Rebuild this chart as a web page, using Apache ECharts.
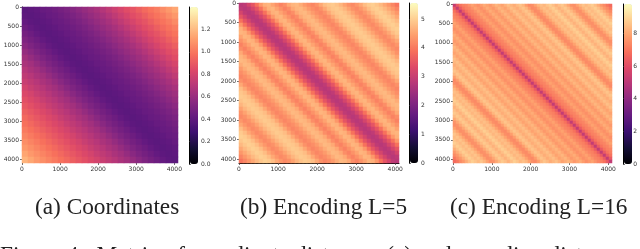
<!DOCTYPE html>
<html><head><meta charset="utf-8">
<style>html,body{margin:0;padding:0;background:#fff;overflow:hidden}#c{width:640px;height:249px}</style>
<script src="https://cdn.jsdelivr.net/npm/echarts@6/dist/echarts.min.js"></script></head>
<body><div id="c"></div>
<script>
const coordAboveDiagonal = [.39,.40,.41,.43,.44,.46,.48,.50,.53,.56,.59,.62,.65,.69,.73,.77,.81,.85,.88,.92,.96,.99,1.02,1.06,1.10,1.14];
const coordBelowDiagonal = [.39,.40,.42,.45,.48,.51,.55,.59,.63,.66,.70,.73,.76,.80,.83,.86,.89,.92,.95,.98,1.01,1.04,1.07,1.10,1.14,1.18];
const encodingL5 = [2.8,2.9,3.2,3.5,3.9,4.35,4.65,4.7,4.5,4.3,4.1,4.25,4.55,4.7,4.75,4.6,4.4,4.25,4.15,4.3,4.55,4.8,4.9,4.95,4.85,4.7,4.5,4.3,4.2,4.35,4.55,4.8,4.95,5.0,4.9,4.75,4.55,4.35,4.15,3.95];
const encodingL16 = [5.2,6.3,6.9,7.2,7.3,7.6,7.9,7.7,7.5,7.8,8.1,7.9,7.7,8.0,8.3,8.1,7.9,8.2,8.5,8.3,8.1,8.4,8.6,8.3,7.8,7.4,7.5,7.9,8.3,8.5,8.3,8.6,8.8,8.5,8.2,8.5,8.7,8.4,8.0,7.6,7.5,7.9,8.3,8.6,8.4,8.6,8.8,8.5,8.1,7.7,7.4,7.0,6.7];
const captions = ['(a) Coordinates','(b) Encoding L=5','(c) Encoding L=16'];
const figureCaption = 'Figure 4:  Matrix of coordinate distances (a) and encoding distances';
const xTicks = [0,1000,2000,3000,4000];
const yTicks = [0,500,1000,1500,2000,2500,3000,3500,4000];
const barTicks = [[0,.2,.4,.6,.8,1.0,1.2],[0,1,2,3,4,5],[0,2,4,6,8]];
const barLabels = [['0.0','0.2','0.4','0.6','0.8','1.0','1.2'],['0','1','2','3','4','5'],['0','2','4','6','8']];
const barMax = [1.4,5.56,9.8];
const matrixSize = 4096;
const magma = ['#000004','#140e36','#3b0f70','#641a80','#8c2981','#b73779','#de4968','#f7705c','#fe9f6d','#fecf92','#fcfdbf'];

const panels = [
 {above:coordAboveDiagonal,below:coordBelowDiagonal,x:22,y:7,w:156,h:156,bx:190,by:7,bh:157,left:true,bottom:false},
 {above:encodingL5,below:encodingL5,x:239,y:3,w:160,h:160,bx:410,by:3,bh:160,left:false,bottom:true},
 {above:encodingL16,below:encodingL16,x:453,y:4,w:159,h:159,bx:624,by:4,bh:160,left:false,bottom:false}
];
const font = {fontFamily:'DejaVu Sans',fontSize:6,color:'#333'};
const captionFont = {fontFamily:'Liberation Serif',fontSize:23.3,fontWeight:'normal',color:'#222'};
const grid=[],xAxis=[],yAxis=[],series=[],visualMap=[],title=[];
panels.forEach((p,k)=>{
  const n=p.above.length, cats=[...Array(n).keys()], cells=[];
  for(let i=0;i<n;i++)for(let j=0;j<n;j++)cells.push([j,i,j>=i?p.above[j-i]:p.below[i-j]]);
  grid.push({left:p.x,top:p.y,width:p.w,height:p.h});
  const g=grid.length-1;
  const xc=xAxis.length;
  xAxis.push({type:'category',gridIndex:g,data:cats,show:false});
  xAxis.push({type:'value',gridIndex:g,position:'bottom',min:0,max:matrixSize,
    axisLine:{show:p.bottom,lineStyle:{color:'#000',width:1}},splitLine:{show:false},
    axisTick:{length:2,lineStyle:{color:'#333',width:.7},customValues:xTicks},
    axisLabel:{...font,margin:3,customValues:xTicks,hideOverlap:false,formatter:v=>String(v)}});
  const yc=yAxis.length;
  yAxis.push({type:'category',gridIndex:g,data:cats,inverse:true,show:false});
  yAxis.push({type:'value',gridIndex:g,position:'left',inverse:true,min:0,max:matrixSize,
    axisLine:{show:p.left,lineStyle:{color:'#000',width:1}},splitLine:{show:false},
    axisTick:{length:2,lineStyle:{color:'#333',width:.7},customValues:yTicks},
    axisLabel:{...font,margin:3,customValues:yTicks,hideOverlap:false,formatter:v=>String(v)}});
  series.push({type:'heatmap',xAxisIndex:xc,yAxisIndex:yc,data:cells,progressive:0,animation:false,itemStyle:{borderWidth:0}});
  visualMap.push({type:'continuous',seriesIndex:k,min:0,max:barMax[k],show:true,calculable:false,
    left:p.bx,top:p.by,itemWidth:8,itemHeight:p.bh,padding:0,text:null,showLabel:false,
    inRange:{color:magma},textStyle:{fontSize:1,color:'rgba(0,0,0,0)'},borderWidth:0});
});
panels.forEach((p,k)=>{
  grid.push({left:p.bx-1,top:p.by,width:9,height:p.bh});
  const g=grid.length-1;
  xAxis.push({type:'value',gridIndex:g,show:false,min:0,max:1});
  yAxis.push({type:'value',gridIndex:g,position:'right',min:0,max:barMax[k],
    splitLine:{show:false},axisLine:{show:false},
    axisTick:{length:2,lineStyle:{color:'#333',width:.7},customValues:barTicks[k]},
    axisLabel:{...font,margin:3,customValues:barTicks[k],formatter:v=>{const t=barTicks[k].indexOf(v);return t>=0?barLabels[k][t]:''}}});
  yAxis.push({type:'value',gridIndex:g,position:'left',min:0,max:barMax[k],
    splitLine:{show:false},axisTick:{show:false},axisLabel:{show:false},
    axisLine:{show:true,lineStyle:{color:'#000',width:1}}});
  title.push({text:captions[k],left:[35,240,450][k],top:196,padding:0,textStyle:captionFont});
});
title.push({text:figureCaption,left:0,top:244,padding:0,textStyle:captionFont});
const chart=echarts.init(document.getElementById('c'),null,{renderer:'canvas'});
chart.setOption({animation:false,backgroundColor:'#fff',title,grid,xAxis,yAxis,series,visualMap});
</script></body></html>
